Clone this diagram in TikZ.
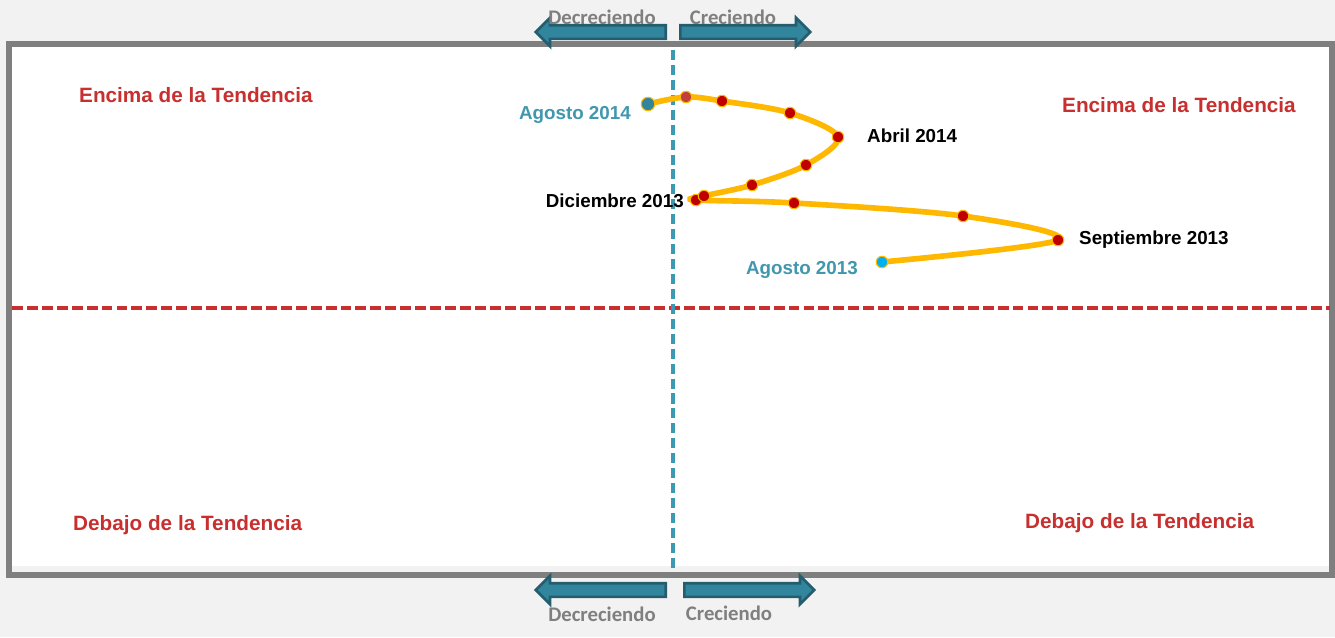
\documentclass[tikz,border=0pt]{standalone}
\usepackage{fontspec}
\setmainfont{Liberation Sans}
\newfontfamily\calibrifont{Carlito}
\usetikzlibrary{shapes.arrows}

\definecolor{framegray}{HTML}{7F7F7F}
\definecolor{bggray}{HTML}{F2F2F2}
\definecolor{tealdash}{HTML}{3B9AB2}
\definecolor{arrowfill}{HTML}{31859C}
\definecolor{arrowedge}{HTML}{245E6E}
\definecolor{trendred}{HTML}{C8302F}
\definecolor{pathgold}{HTML}{FFB800}
\definecolor{dotred}{HTML}{C00000}
\definecolor{softred}{HTML}{C0403D}
\definecolor{startcyan}{HTML}{00B0F0}
\definecolor{labelteal}{HTML}{4097AE}

\begin{document}
\begin{tikzpicture}[x=0.02cm, y=-0.02cm,
    month/.style={circle, fill=dotred, draw=pathgold, line width=0.6pt,
      inner sep=0pt, minimum size=0.23cm},
    monthlbl/.style={font=\bfseries\fontsize{10.7}{12}\selectfont},
    trend/.style={text=trendred, anchor=west,
      font=\bfseries\fontsize{11.8}{13}\selectfont},
    dirlabel/.style={text=framegray,
      font=\calibrifont\bfseries\fontsize{11.8}{13}\selectfont},
    dirarrow/.style={single arrow, fill=arrowfill, draw=arrowedge,
      line width=1.5pt, minimum height=2.6cm, inner sep=0.11cm,
      single arrow head extend=0.15cm, single arrow head indent=0cm},
    trendpath/.style={pathgold, line width=3.2pt, line cap=round}]

  % Background and frame
  \fill[bggray] (0,0) rectangle (1335,637);
  \useasboundingbox (0,0) rectangle (1335,637);
  \fill[white] (12,47) rectangle (1330,566);
  \draw[framegray, line width=3.4pt] (9,44) rectangle (1332,575);

  % Axes
  \draw[trendred, line width=2pt, dash pattern=on 6.2pt off 2.3pt]
    (12,308) -- (1330,308);
  \draw[tealdash, line width=1.9pt, dash pattern=on 5.7pt off 2.8pt]
    (673,50) -- (673,570);

  % Direction arrows
  \node[dirarrow, shape border rotate=180, anchor=tail] (decup) at (667,32) {};
  \node[dirarrow, anchor=tail] (creup) at (679,32) {};
  \node[dirarrow, shape border rotate=180, anchor=tail] (declow) at (667,590) {};
  \node[dirarrow, anchor=tail] (crelow) at (683,590) {};
  \node[dirlabel] (decuplbl) at (602,17) {Decreciendo};
  \node[dirlabel] (creuplbl) at (733,17) {Creciendo};
  \node[dirlabel] (declowlbl) at (602,614) {Decreciendo};
  \node[dirlabel] (crelowlbl) at (729,613) {Creciendo};

  % Quadrant labels
  \node[trend] (tl) at (73,95) {Encima de la Tendencia};
  \node[trend] (tr) at (1056,105) {Encima de la Tendencia};
  \node[trend] (bl) at (67,525) {Debajo de la Tendencia};
  \node[trend] (br) at (1019,523) {Debajo de la Tendencia};

  % Monthly path
  \foreach \n/\x/\y in {a13/882/262, s13/1058/240, m1/963/216, m2/794/203,
      d13/696/200, m3/704/196, m4/752/185, m5/806/165, a14/838/137,
      m6/790/113, m7/722/101, m8/686/97, g14/648/104}
    \coordinate (\n) at (\x,\y);
  \draw[trendpath] plot[smooth, tension=0.55] coordinates {(a13) (s13) (m1)
    (m2) (d13) (m3) (m4) (m5) (a14) (m6) (m7) (m8) (g14)};

  \foreach \n in {s13, m1, m2, d13, m3, m4, m5, a14, m6, m7}
    \node[month] (dot-\n) at (\n) {};
  \node[month, fill=softred] (dot-m8) at (m8) {};
  \node[month, fill=startcyan] (dot-a13) at (a13) {};
  \node[month, fill=arrowfill, minimum size=0.27cm] (dot-g14) at (g14) {};

  % Month labels
  \node[monthlbl, text=labelteal, anchor=east] (lg14) at (637,115) {Agosto 2014};
  \node[monthlbl, anchor=west] (la14) at (861,136) {Abril 2014};
  \node[monthlbl, anchor=east] (ld13) at (690,201) {Diciembre 2013};
  \node[monthlbl, anchor=west] (ls13) at (1073,240) {Septiembre 2013};
  \node[monthlbl, text=labelteal, anchor=east] (la13) at (864,270) {Agosto 2013};
\end{tikzpicture}
\end{document}
